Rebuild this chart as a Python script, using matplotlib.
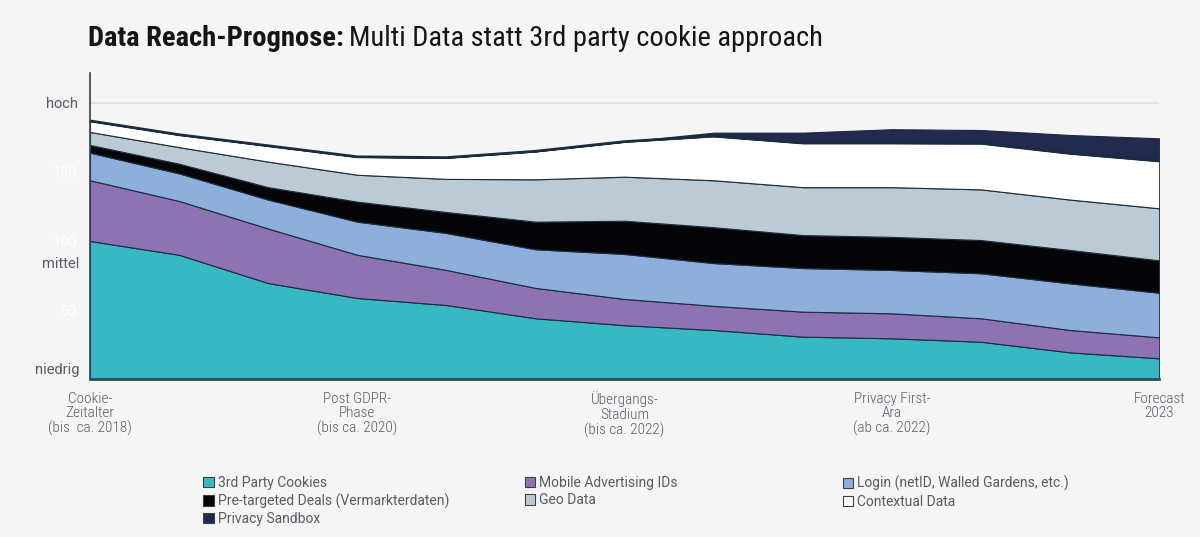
import matplotlib
matplotlib.use("Agg")
import matplotlib.pyplot as plt
from matplotlib.patches import Patch
import numpy as np

# ---- values (stack layer thickness per step) ----
steps = np.arange(13)
cookies    = [100, 90, 69.5, 58.7, 53.6, 44, 39, 35.5, 30.7, 29.5, 27, 19.3, 15]
mobile_ids = [44, 39, 39.5, 31.3, 25.4, 22, 19, 17.5, 18.1, 18.1, 17, 16.2, 15.2]
login      = [20, 20, 21, 24, 26.8, 28, 32.6, 31, 31.6, 31.4, 32.6, 33.8, 32.3]
deals      = [5.6, 7, 9, 14.5, 15.2, 20, 24.1, 26, 23.9, 24, 24.1, 24.2, 23.5]
geo        = [9.4, 12, 18.5, 19.5, 24, 30.7, 31.9, 34, 34.7, 36, 36.7, 36.5, 37.7]
contextual = [8, 9, 11.5, 13, 15.4, 20.3, 25.4, 32, 32, 32, 33.4, 33.5, 34.3]
sandbox    = [0, 0, 0, 0, 0, 0, 0, 2.5, 7.5, 10, 9.6, 13.3, 16.4]

series = [cookies, mobile_ids, login, deals, geo, contextual, sandbox]
labels = ["3rd Party Cookies", "Mobile Advertising IDs", "Login (netID, Walled Gardens, etc.)",
          "Pre-targeted Deals (Vermarkterdaten)", "Geo Data", "Contextual Data", "Privacy Sandbox"]
colors = ["#38b8c3", "#8e73b4", "#8eaedc", "#050508", "#bccbd3", "#ffffff", "#222a4f"]

xtick_pos = [0, 3, 6, 9, 12]
xtick_labels = ["Cookie-\nZeitalter\n(bis  ca. 2018)", "Post GDPR-\nPhase\n(bis ca. 2020)",
                "Übergangs-\nStadium\n(bis ca. 2022)", "Privacy First-\nÄra\n(ab ca. 2022)",
                "Forecast\n2023"]

BG = "#f5f5f5"; EDGE = "#1c2b3f"; GREY = "#555c66"
COND = ["Roboto Condensed", "Roboto", "DejaVu Sans"]
SANS = ["Roboto", "DejaVu Sans"]

fig = plt.figure(figsize=(12, 5.37), dpi=100)
fig.patch.set_facecolor(BG)
ax = fig.add_axes([0.075, 0.2942, 0.891, 0.5698])
ax.set_facecolor(BG)

ax.axhline(200, color="#e2e2e2", lw=1.6, zorder=0)
ax.stackplot(steps, *series, colors=colors, edgecolor=EDGE, linewidth=0.8, zorder=2)
top = np.sum(series[:6], axis=0)
ax.plot(steps, top, color=EDGE, lw=2, zorder=3, solid_capstyle="butt")

ax.set_xlim(0, 12)
ax.set_ylim(0, 221.7)
for s in ["top", "right"]:
    ax.spines[s].set_visible(False)
ax.spines["left"].set_color("#3a3f48")
ax.spines["left"].set_linewidth(1.2)
ax.spines["bottom"].set_color("#2c4d57")
ax.spines["bottom"].set_linewidth(2)
ax.spines["bottom"].set_zorder(4)

ax.set_yticks([50, 100, 150, 200])
ax.set_yticklabels(["50", "100", "150", "hoch"], fontsize=10.5, family=SANS)
for t in ax.get_yticklabels():
    t.set_color("white")
ax.get_yticklabels()[-1].set_color(GREY)
ax.tick_params(axis="y", length=0, pad=9)
ax.text(-0.12, 83, "mittel", ha="right", va="center", fontsize=10.5, color=GREY, family=SANS)
ax.text(-0.12, 6.5, "niedrig", ha="right", va="center", fontsize=10.5, color=GREY, family=SANS)

ax.set_xticks(xtick_pos)
ax.set_xticklabels(xtick_labels, fontsize=11, color=GREY, family=COND, fontweight="light",
                   linespacing=1.05)
ax.tick_params(axis="x", length=0, pad=9)

t1 = fig.text(0.073, 0.915, "Data Reach-Prognose:", fontsize=20.5, fontweight="bold",
              color="#151515", family=COND, va="baseline")
fig.canvas.draw()
bb = t1.get_window_extent()
fig.text((bb.x1 + 6) / fig.bbox.width, 0.915, "Multi Data statt 3rd party cookie approach",
         fontsize=20.5, color="#151515", family=COND, va="baseline")

# legend: three columns, row-major order as in the reference
handles = [Patch(facecolor=c, edgecolor="#3a3f48", linewidth=0.8) for c in colors]
cols = [[0, 3, 6], [1, 4], [2, 5]]
xs = [0.159, 0.427, 0.692]
for x0, idx in zip(xs, cols):
    fig.legend([handles[i] for i in idx], [labels[i] for i in idx], loc="upper left",
               bbox_to_anchor=(x0, 0.137), frameon=False,
               handlelength=0.75, handleheight=0.75, handletextpad=0.3, labelspacing=0.25,
               labelcolor=GREY, prop={"family": SANS, "size": 10})

fig.savefig("out.png", facecolor=BG)
